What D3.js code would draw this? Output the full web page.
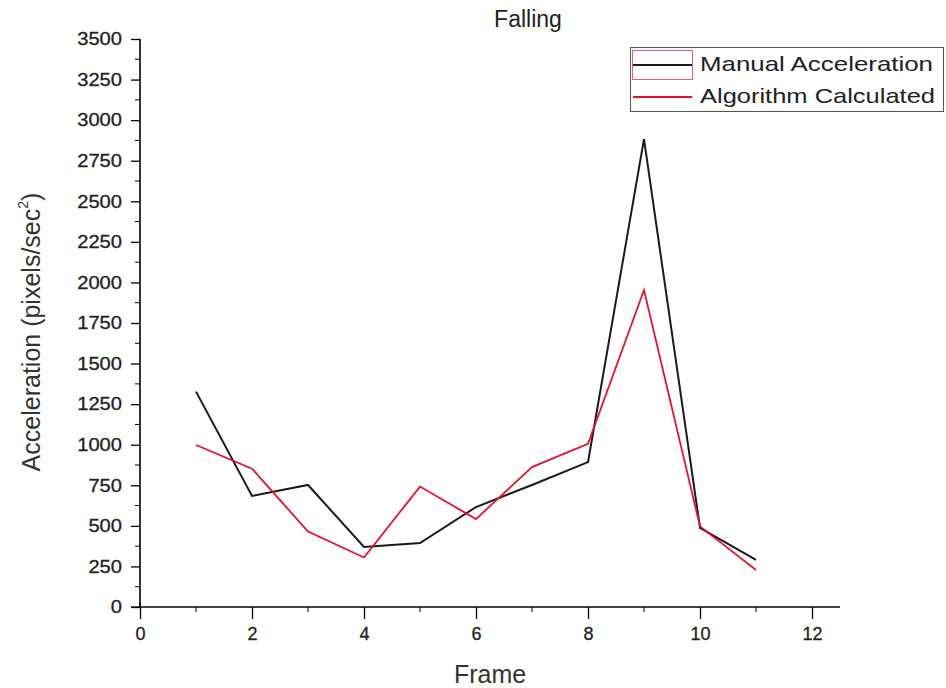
<!DOCTYPE html>
<html><head><meta charset="utf-8">
<script src="https://cdn.jsdelivr.net/npm/d3@7/dist/d3.min.js"></script>
<style>body{margin:0;background:#fff;} svg{display:block;font-family:Arial,"Liberation Sans",sans-serif;}</style>
</head><body>
<svg id="c" width="946" height="688"></svg>
<script>
const frames = [1,2,3,4,5,6,7,8,9,10,11];
const manual = [1327,684,752,370,394,616,752,893,2883,487,290];
const algorithm = [998,852,465,305,742,542,862,1005,1953,497,228];
const yTicks = [0,250,500,750,1000,1250,1500,1750,2000,2250,2500,2750,3000,3250,3500];
const xTicks = [0,2,4,6,8,10,12];
const seriesNames = ["Manual Acceleration","Algorithm Calculated"];
const colors = ["#1a1a1a","#e8112d"];

const svg = d3.select("#c");
const x = d3.scaleLinear().domain([0,12.5]).range([140,840]);
const y = d3.scaleLinear().domain([0,3500]).range([607,39]);
const FONT = "Arial, 'Liberation Sans', sans-serif";

// y axis
const yAxis = d3.axisLeft(y).tickValues(yTicks).tickSize(9).tickPadding(9).tickFormat(d3.format("d"));
const gy = svg.append("g").attr("transform","translate(140,0)").call(yAxis);
gy.select(".domain").attr("stroke","#000").attr("stroke-width",1.6).attr("d","M0,39V607");
gy.selectAll(".tick line").attr("stroke","#000").attr("stroke-width",1.3);
gy.selectAll(".tick text").attr("font-size",18).attr("fill","#222").attr("font-family",FONT)
  .attr("stroke","#222").attr("stroke-width",0.3)
  .attr("textLength",function(d){return String(d).length*11.2;}).attr("lengthAdjust","spacingAndGlyphs");
const minorY = d3.range(125,3500,250);
gy.selectAll(".minor").data(minorY).enter().append("line")
  .attr("x1",0).attr("x2",-5).attr("y1",d=>y(d)).attr("y2",d=>y(d)).attr("stroke","#000").attr("stroke-width",1);

// x axis
const xAxis = d3.axisBottom(x).tickValues(xTicks).tickSize(12).tickPadding(8).tickFormat(d3.format("d"));
const gx = svg.append("g").attr("transform","translate(0,607)").call(xAxis);
gx.select(".domain").attr("stroke","#000").attr("stroke-width",1.6).attr("d","M140,0H840");
gx.selectAll(".tick line").attr("stroke","#000").attr("stroke-width",1.3);
gx.selectAll(".tick text").attr("font-size",18).attr("fill","#222").attr("font-family",FONT)
  .attr("stroke","#222").attr("stroke-width",0.3);
const minorX = d3.range(1,12,2);
gx.selectAll(".minor").data(minorX).enter().append("line")
  .attr("x1",d=>x(d)).attr("x2",d=>x(d)).attr("y1",0).attr("y2",5).attr("stroke","#000").attr("stroke-width",1);
// small cross at origin
svg.append("line").attr("x1",131).attr("x2",140).attr("y1",607).attr("y2",607).attr("stroke","#000").attr("stroke-width",1.3);
svg.append("line").attr("x1",140).attr("x2",140).attr("y1",603).attr("y2",607).attr("stroke","#000").attr("stroke-width",1.3);

// lines
const line = d3.line().x((d,i)=>x(frames[i])).y(d=>y(d));
[manual, algorithm].forEach((s,i)=>{
  svg.append("path").datum(s).attr("d",line).attr("fill","none")
    .attr("stroke",colors[i]).attr("stroke-width",i===0?2:1.8).attr("stroke-linejoin","miter");
});

// title and labels
svg.append("text").attr("x",528).attr("y",27).attr("text-anchor","middle").attr("font-size",23).attr("fill","#222").text("Falling");
svg.append("text").attr("x",490).attr("y",683).attr("text-anchor","middle").attr("font-size",25).attr("fill","#333").text("Frame");
const yl = svg.append("text").attr("transform","translate(40,332) rotate(-90)").attr("text-anchor","middle").attr("font-size",25).attr("fill","#333");
yl.append("tspan").text("Acceleration (pixels/sec");
yl.append("tspan").attr("font-size",14).attr("dy",-12).text("2");
yl.append("tspan").attr("dy",12).text(")");

// legend
const lg = svg.append("g");
lg.append("rect").attr("x",630.5).attr("y",47.5).attr("width",313).attr("height",64).attr("fill","#fff").attr("stroke","#555").attr("stroke-width",1);
lg.append("rect").attr("x",632.5).attr("y",50.5).attr("width",60).attr("height",29).attr("fill","none").attr("stroke","#e06070").attr("stroke-width",1);
seriesNames.forEach((n,i)=>{
  const yy = 65 + i*32;
  lg.append("line").attr("x1",633).attr("x2",692).attr("y1",yy).attr("y2",yy).attr("stroke",colors[i]).attr("stroke-width",2);
  lg.append("text").attr("x",700).attr("y",yy+6).attr("font-size",21).attr("fill","#222")
    .attr("textLength",i===0?233:235).attr("lengthAdjust","spacingAndGlyphs").text(n);
});
</script>
</body></html>
